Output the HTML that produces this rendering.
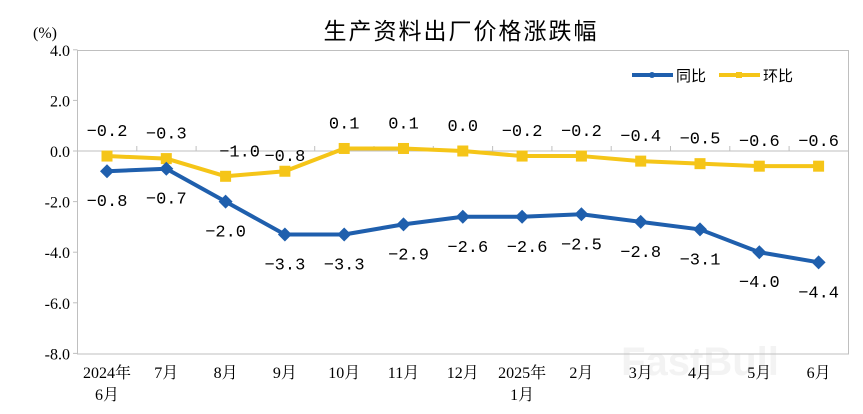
<!DOCTYPE html>
<html><head><meta charset="utf-8"><style>
html,body{margin:0;padding:0;background:#fff;}
svg{display:block;}
.ax{font-family:"Liberation Serif","Noto Serif CJK SC",serif;font-size:16px;fill:#000;}
.lb{font-family:"Liberation Mono",monospace;font-size:17px;fill:#000;}
</style></head><body>
<svg id="c" width="863" height="414" xmlns="http://www.w3.org/2000/svg">
<rect width="863" height="414" fill="#fff"/>
<text x="700" y="375" font-family="'Liberation Sans',sans-serif" font-size="40" font-weight="bold" fill="#f3f3f3" text-anchor="middle">FastBull</text>
<text x="461" y="39" text-anchor="middle" font-family="'Noto Sans CJK SC',sans-serif" font-size="23" letter-spacing="2">生产资料出厂价格涨跌幅</text>
<text x="33" y="38" class="ax" font-size="15">(%)</text>
<rect x="77.5" y="50.5" width="771" height="303.5" fill="none" stroke="#bfbfbf" stroke-width="1"/>
<g id="g"></g>
<line x1="632" y1="75" x2="673" y2="75" stroke="#1f5fad" stroke-width="4"/>
<circle cx="652" cy="75" r="3" fill="#1f5fad"/>
<text x="676" y="81" font-family="'Noto Sans CJK SC',sans-serif" font-size="15">同比</text>
<line x1="719" y1="75" x2="760" y2="75" stroke="#f5c518" stroke-width="4"/>
<rect x="736" y="72" width="6" height="6" fill="#f5c518"/>
<text x="763" y="81" font-family="'Noto Sans CJK SC',sans-serif" font-size="15">环比</text>
</svg>
<script>
var g=document.getElementById('g'),s='';
function Y(v){return 151-v*25.3;}
function X(i){return 107+59.3*i;}
var yl=[-0.2,-0.3,-1.0,-0.8,0.1,0.1,0.0,-0.2,-0.2,-0.4,-0.5,-0.6,-0.6];
var bl=[-0.8,-0.7,-2.0,-3.3,-3.3,-2.9,-2.6,-2.6,-2.5,-2.8,-3.1,-4.0,-4.4];
var ticks=[4,2,0,-2,-4,-6,-8];
ticks.forEach(function(t){var y=Y(t);s+='<text class="ax" x="70" y="'+(y+6)+'" text-anchor="end">'+t.toFixed(1)+'</text>';s+='<line x1="73" y1="'+y+'" x2="77.5" y2="'+y+'" stroke="#bfbfbf"/>';});
s+='<line x1="77.5" y1="151" x2="848.5" y2="151" stroke="#bfbfbf"/>';
for(var i=1;i<13;i++){var x=77.5+59.3*i;s+='<line x1="'+x+'" y1="146" x2="'+x+'" y2="151" stroke="#bfbfbf"/>';}
var cats=['2024年','7月','8月','9月','10月','11月','12月','2025年','2月','3月','4月','5月','6月'];
cats.forEach(function(c,i){s+='<text class="ax" x="'+X(i)+'" y="378" text-anchor="middle">'+c+'</text>';});
s+='<text class="ax" x="'+X(0)+'" y="400" text-anchor="middle">6月</text>';
s+='<text class="ax" x="'+X(7)+'" y="400" text-anchor="middle">1月</text>';
function line(d,c){var p=d.map(function(v,i){return X(i)+','+Y(v)}).join(' ');return '<polyline points="'+p+'" fill="none" stroke="'+c+'" stroke-width="4" stroke-linejoin="round"/>';}
s+=line(yl,'#f5c518');s+=line(bl,'#1f5fad');
yl.forEach(function(v,i){s+='<rect x="'+(X(i)-5.5)+'" y="'+(Y(v)-5.5)+'" width="11" height="11" fill="#f5c518"/>';});
bl.forEach(function(v,i){var x=X(i),y=Y(v);s+='<polygon points="'+x+','+(y-7)+' '+(x+7)+','+y+' '+x+','+(y+7)+' '+(x-7)+','+y+'" fill="#1f5fad"/>';});
function f(v){return (v<0?'−':'')+Math.abs(v).toFixed(1);}
yl.forEach(function(v,i){var x=X(i),y=Y(v)-20;if(i==2){x+=14;y=Y(v)-20;}if(i==3){y=Y(v)-10;}s+='<text class="lb" x="'+x+'" y="'+y+'" text-anchor="middle">'+f(v)+'</text>';});
bl.forEach(function(v,i){var x=X(i),y=Y(v)+35;if(i>=5&&i<=7){x+=5;}s+='<text class="lb" x="'+x+'" y="'+y+'" text-anchor="middle">'+f(v)+'</text>';});
g.innerHTML=s;
</script>
</body></html>
